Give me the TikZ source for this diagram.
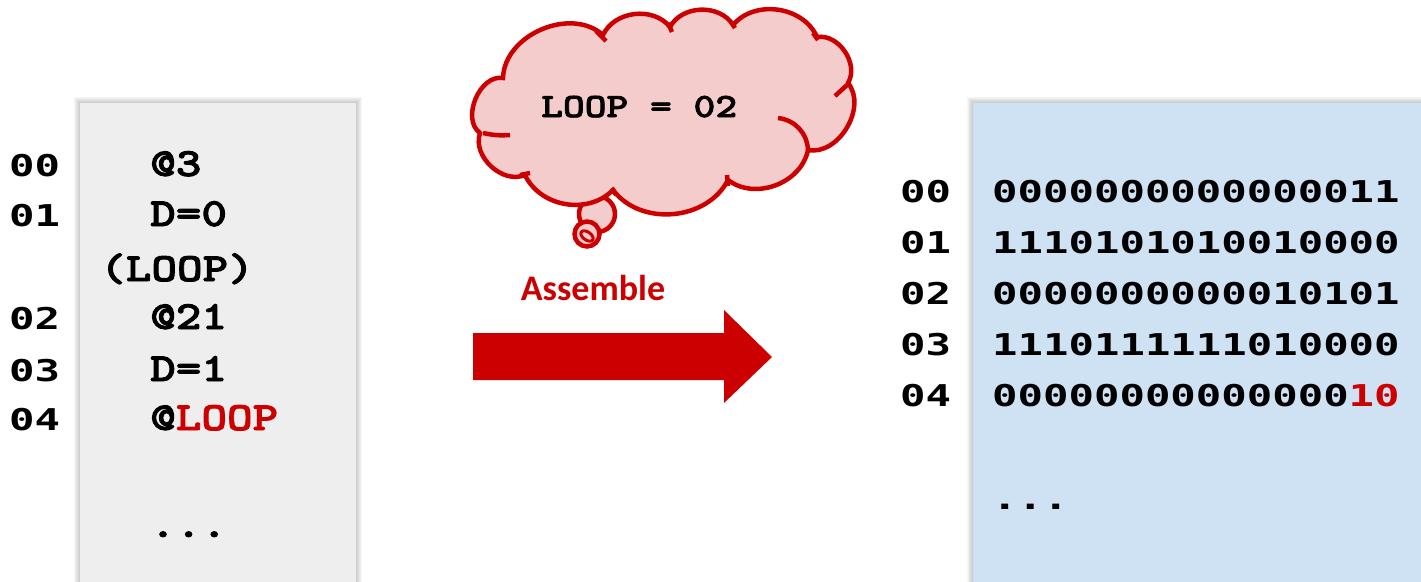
\documentclass[tikz,border=0pt]{standalone}
\usepackage{fontspec}
\newfontfamily\codefont{lmmonolt10-bold.otf}[FakeStretch=1.22,FakeBold=2.2]
\newfontfamily\numfont{DejaVu Sans Mono}[FakeStretch=1.41]
\newfontfamily\calfont{Carlito}
\definecolor{hred}{HTML}{CC0000}
\definecolor{cloudfill}{HTML}{F4CCCC}
\definecolor{graypanel}{HTML}{EEEEEE}
\definecolor{bluepanel}{HTML}{CFE2F3}
\begin{document}
\begin{tikzpicture}[x=1pt,y=1pt,
  code/.style={anchor=base west, inner sep=0, font=\codefont\fontsize{40}{48}\selectfont},
  cloudtext/.style={anchor=base west, inner sep=0, font=\codefont\fontsize{34}{40}\selectfont},
  num/.style={anchor=base west, inner sep=0, font=\numfont\bfseries\fontsize{30}{36}\selectfont},
  label/.style={anchor=base, inner sep=0, text=hred, font=\calfont\bfseries\fontsize{36}{42}\selectfont},
  cloudline/.style={draw=hred, line width=4.5pt},
  bigarrow/.style={fill=hred, draw=none},
  shadowrect/.style={fill=black, opacity=0.035, draw=none}
]
\useasboundingbox (0,0) rectangle (1421,-581);

% panel shadows
\foreach \i in {1,...,6} {
  \fill[shadowrect] (80-\i,-103+\i) rectangle (356+\i,-600);
  \fill[shadowrect] (973-\i,-103+\i) rectangle (1440,-600);
}
% panels
\fill[graypanel] (80,-103) rectangle (356,-600);
\fill[bluepanel] (973,-103) rectangle (1440,-600);

% left listing
\node[num] (l00) at (9,-176) {00};
\node[num] (l01) at (9,-226) {01};
\node[num] (l02) at (9,-329) {02};
\node[num] (l03) at (9,-381) {03};
\node[num] (l04) at (9,-430) {04};

\node[code] (c1) at (150,-176) {@3};
\node[code] (c2) at (150,-226) {D=0};
\node[code] (c3) at (100,-281) {(LOOP)};
\node[code] (c4) at (150,-329) {@21};
\node[code] (c5) at (150,-381) {D=1};
\node[code] (c6) at (150,-430) {@\textcolor{hred}{LOOP}};
\node[code] (c7) at (150,-537) {...};

% right listing
\node[num] (r00) at (900,-202) {00};
\node[num] (r01) at (900,-253) {01};
\node[num] (r02) at (900,-304) {02};
\node[num] (r03) at (900,-355) {03};
\node[num] (r04) at (900,-406) {04};

\node[num] (b1) at (992,-202) {0000000000000011};
\node[num] (b2) at (992,-253) {1110101010010000};
\node[num] (b3) at (992,-304) {0000000000010101};
\node[num] (b4) at (992,-355) {1110111111010000};
\node[num] (b5) at (992,-406) {00000000000000\textcolor{hred}{10}};
\node[num] (b6) at (992,-509) {...};

% thought bubbles
\draw[cloudline, fill=cloudfill] (597,-214) circle[radius=18];
\draw[cloudline, fill=cloudfill] (587,-234) circle[radius=12.5];
\draw[draw=hred, line width=3pt] (587,-236) ellipse[x radius=7, y radius=4, rotate=-35];

% cloud
\draw[cloudline, fill=cloudfill, looseness=1.02]
  (503,-78) to[bend left=65] (603,-35)
  to[bend left=58] (670,-27)
  to[bend left=60] (733,-25)
  to[bend left=58] (817,-37)
  to[bend left=65] (848,-83)
  to[bend left=70] (808,-150)
  to[bend left=58] (728,-180)
  to[bend left=58] (613,-190)
  to[bend left=55] (525,-175)
  to[bend left=66] (480,-133)
  to[bend left=77] (503,-78) -- cycle;
% inner cloud strokes
\draw[cloudline] (596,-31) -- (606,-41);
\draw[cloudline] (668,-23) -- (672,-32);
\draw[cloudline] (732,-23) -- (735,-28);
\draw[cloudline] (813,-33) -- (818,-40);
\draw[cloudline] (847,-85) -- (835,-96);
\draw[cloudline] (778,-118) to[bend left=40] (808,-150);
\draw[cloudline] (727,-175) -- (728,-186);
\draw[cloudline] (612,-188) -- (616,-195);
\draw[cloudline] (520,-175) -- (530,-173);
\draw[cloudline] (483,-133) to[bend right=8] (510,-135);

\node[cloudtext] (ct) at (541,-117) {LOOP = 02};

% assemble label and arrow
\node[label] (asm) at (593,-300) {Assemble};
\fill[bigarrow] (473,-333) -- (724,-333) -- (724,-310) -- (772,-357)
  -- (724,-403) -- (724,-380) -- (473,-380) -- cycle;
\end{tikzpicture}
\end{document}
